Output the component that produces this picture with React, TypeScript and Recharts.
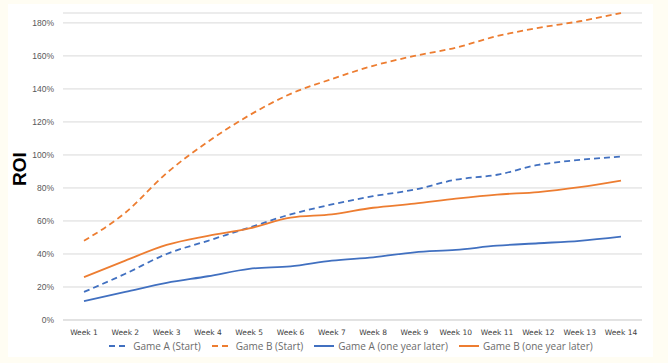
import React from 'react';
import { LineChart, Line, XAxis, YAxis, CartesianGrid, Legend } from 'recharts';

const weeks = ['Week 1', 'Week 2', 'Week 3', 'Week 4', 'Week 5', 'Week 6', 'Week 7', 'Week 8', 'Week 9', 'Week 10', 'Week 11', 'Week 12', 'Week 13', 'Week 14'];
const gameAStart = [17, 28, 40, 48, 56, 64, 70, 75, 79, 85, 88, 94, 97, 99];
const gameBStart = [48, 65, 89, 108, 124, 137, 146, 154, 160, 165, 172, 177, 181, 186];
const gameALater = [11.5, 17, 22.5, 26.5, 31, 32.5, 36, 38, 41, 42.5, 45, 46.5, 48, 50.5];
const gameBLater = [26, 36, 45.5, 51, 55.5, 62, 64, 68, 70.5, 73.5, 76, 77.5, 80.5, 84.5];
const yTicks = [0, 20, 40, 60, 80, 100, 120, 140, 160, 180];

const BLUE = '#4170c0';
const ORANGE = '#ed7d31';

const data = weeks.map((week, i) => ({
  week,
  aStart: gameAStart[i],
  bStart: gameBStart[i],
  aLater: gameALater[i],
  bLater: gameBLater[i],
}));

const legendItems = [
  { label: 'Game A (Start)', color: BLUE, dash: '6 4' },
  { label: 'Game B (Start)', color: ORANGE, dash: '6 4' },
  { label: 'Game A (one year later)', color: BLUE, dash: undefined },
  { label: 'Game B (one year later)', color: ORANGE, dash: undefined },
];

const renderLegend = () => (
  <div style={{ display: 'flex', justifyContent: 'center', gap: 11, fontFamily: '"Open Sans", sans-serif', fontSize: 10, color: '#6b6b6b', marginLeft: 52 }}>
    {legendItems.map((item) => (
      <div key={item.label} style={{ display: 'flex', alignItems: 'center' }}>
        <svg width={20} height={6} style={{ marginRight: 4 }}>
          <line x1={0} y1={3} x2={20} y2={3} stroke={item.color} strokeWidth={2} strokeDasharray={item.dash} />
        </svg>
        <span>{item.label}</span>
      </div>
    ))}
  </div>
);

const App = () => {
  return (
    <div style={{ position: 'absolute', left: 0, top: 0, width: 668, height: 363, background: '#fffdf3' }}>
      <div style={{ position: 'absolute', left: 8, top: 4, width: 645, height: 353, background: '#ffffff' }}>
        <div style={{ position: 'absolute', left: -8, top: 154, width: 40, textAlign: 'center', transform: 'rotate(-90deg)', fontFamily: '"Liberation Sans", Arial, sans-serif', fontWeight: 'bold', fontSize: 19, lineHeight: '22px', color: '#000' }}>
          ROI
        </div>
        <LineChart width={645} height={353} data={data} margin={{ top: 9, right: 11, left: 0, bottom: 0 }}>
          <CartesianGrid vertical={false} stroke="#d9d9d9" />
          <XAxis
            dataKey="week"
            tickLine={false}
            axisLine={{ stroke: '#d9d9d9' }}
            tick={{ fontSize: 7.5, fill: '#404040', fontFamily: '"DejaVu Sans", sans-serif' }}
            tickMargin={4}
            height={19}
            interval={0}
            padding={{ left: 21, right: 21 }}
          />
          <YAxis
            domain={[0, 'dataMax']}
            ticks={yTicks}
            tickFormatter={(v: number) => `${v}%`}
            width={55}
            axisLine={false}
            tickLine={false}
            tickMargin={3}
            tick={{ fontSize: 8.5, fill: '#595959', fontFamily: '"Liberation Sans", Arial, sans-serif' }}
          />
          <Legend content={renderLegend} verticalAlign="bottom" height={18} />
          <Line type="monotone" dataKey="aStart" stroke={BLUE} strokeWidth={1.8} strokeDasharray="6 4" dot={false} isAnimationActive={false} />
          <Line type="monotone" dataKey="bStart" stroke={ORANGE} strokeWidth={1.8} strokeDasharray="6 4" dot={false} isAnimationActive={false} />
          <Line type="monotone" dataKey="aLater" stroke={BLUE} strokeWidth={1.8} dot={false} isAnimationActive={false} />
          <Line type="monotone" dataKey="bLater" stroke={ORANGE} strokeWidth={1.8} dot={false} isAnimationActive={false} />
        </LineChart>
      </div>
    </div>
  );
};

export default App;
